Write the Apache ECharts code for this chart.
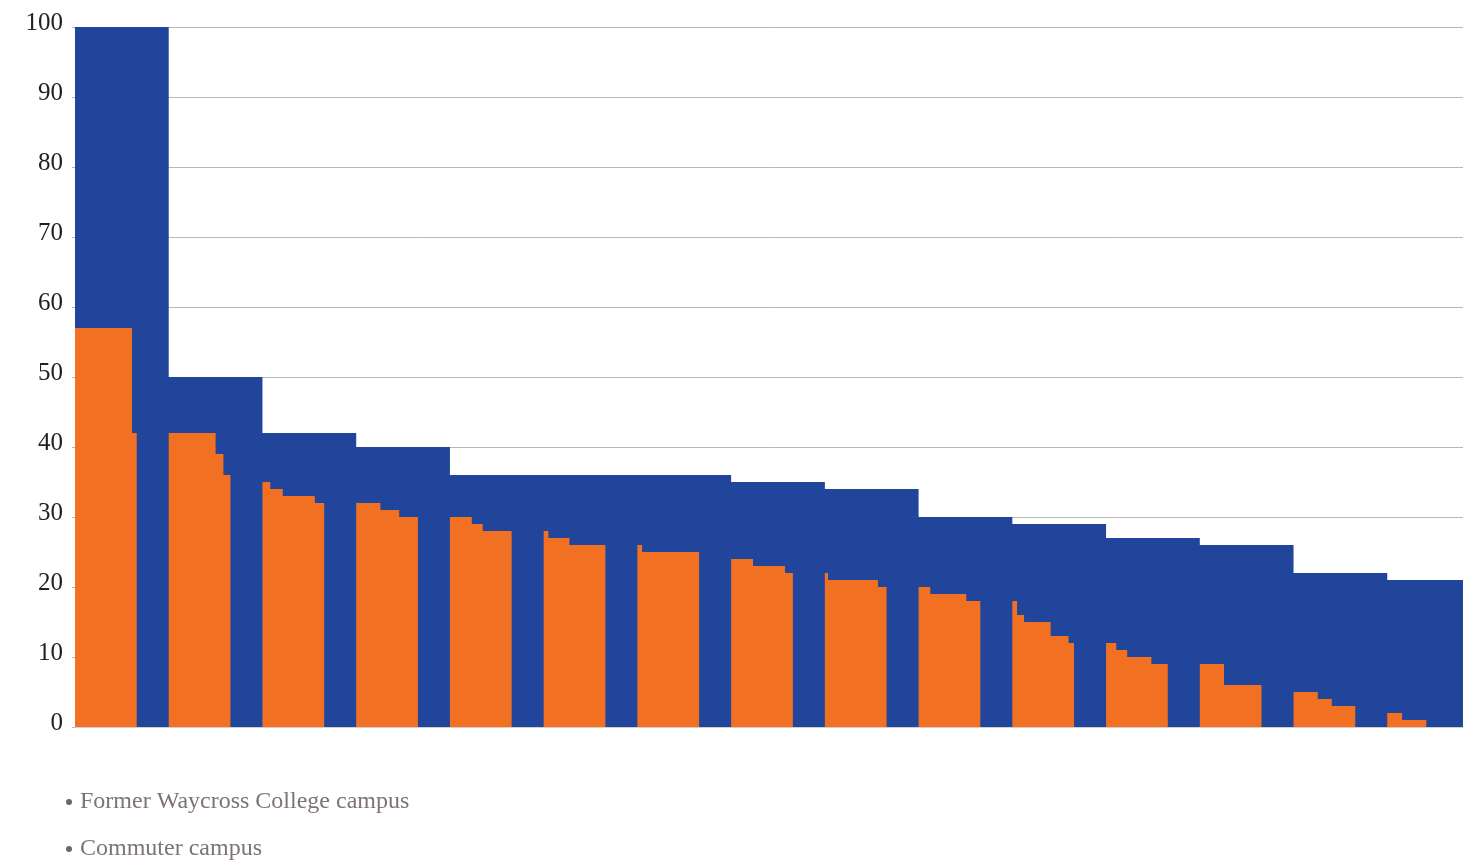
<!DOCTYPE html>
<html>
<head>
<meta charset="utf-8">
<script src="https://cdn.jsdelivr.net/npm/echarts@6/dist/echarts.min.js"></script>
<style>
  html, body { margin: 0; padding: 0; background: #ffffff; }
  #chart { width: 1463px; height: 860px; }
</style>
</head>
<body>
<div id="chart"></div>
<script>
// ---- data ----
const categories = ['1','2','3','4','5','6','7','8','9','10','11','12','13','14','15'];
const seriesNames = ['Former Waycross College campus', 'Commuter campus'];
const blueValues = [100, 50, 42, 40, 36, 36, 36, 35, 34, 30, 29, 27, 26, 22, 21];
// orange steps per group: [value, run length in 1/120 of a group]
const orangeRuns = [
  [[57, 73], [42, 6]],
  [[42, 60], [39, 10], [36, 9]],
  [[35, 10], [34, 16], [33, 41], [32, 12]],
  [[32, 31], [31, 24], [30, 24]],
  [[30, 28], [29, 14], [28, 37]],
  [[28, 6], [27, 27], [26, 46]],
  [[26, 6], [25, 73]],
  [[24, 28], [23, 41], [22, 10]],
  [[22, 4], [21, 64], [20, 11]],
  [[20, 15], [19, 46], [18, 18]],
  [[18, 6], [16, 9], [15, 34], [13, 23], [12, 7]],
  [[12, 13], [11, 14], [10, 31], [9, 21]],
  [[9, 31], [6, 48]],
  [[5, 31], [4, 18], [3, 30]],
  [[2, 19], [1, 31]]
];
const yMin = 0, yMax = 100, yStep = 10;
const runUnitsPerGroup = 120;

// blue: one full-width step per category
const bluePoints = [];
blueValues.forEach(function (v, g) { bluePoints.push([g, v]); });
bluePoints.push([blueValues.length, blueValues[blueValues.length - 1]]);

// orange: step points built from the runs
const orangePoints = [];
orangeRuns.forEach(function (runs, g) {
  let cum = 0;
  runs.forEach(function (r) {
    orangePoints.push([g + cum / runUnitsPerGroup, r[0]]);
    cum += r[1];
  });
  orangePoints.push([g + cum / runUnitsPerGroup, 0]);
});

const chart = echarts.init(document.getElementById('chart'), null, { renderer: 'canvas' });
const serif = "'Liberation Serif', 'DejaVu Serif', serif";
chart.setOption({
  animation: false,
  backgroundColor: '#ffffff',
  grid: { left: 75, top: 27, width: 1406, height: 700, containLabel: false, outerBoundsMode: 'none' },
  legend: {
    orient: 'vertical',
    left: 66,
    top: 790,
    height: 120,
    width: 600,
    padding: 0,
    icon: 'circle',
    itemWidth: 6,
    itemHeight: 6,
    itemGap: 23,
    data: seriesNames,
    itemStyle: { color: '#6f6663', borderWidth: 0 },
    textStyle: { fontFamily: serif, fontSize: 24, color: '#7d7471', lineHeight: 24, padding: [0, 0, 0, 3] },
    selectedMode: false
  },
  xAxis: [
    {
      type: 'category', data: categories, gridIndex: 0,
      boundaryGap: true,
      axisLine: { show: true, lineStyle: { color: '#d0d0d0', width: 1 } },
      axisTick: { show: false }, axisLabel: { show: false }, splitLine: { show: false }
    },
    {
      type: 'value', gridIndex: 0, min: 0, max: categories.length, show: false
    }
  ],
  yAxis: {
    type: 'value', min: yMin, max: yMax, interval: yStep,
    axisLine: { show: false },
    axisTick: { show: true, length: 3, lineStyle: { color: '#b8b8b8' } },
    axisLabel: { fontFamily: serif, fontSize: 25, color: '#231f20', margin: 12, verticalAlign: 'bottom', lineHeight: 8 },
    splitLine: { show: true, lineStyle: { color: '#b8b8b8', width: 1 } }
  },
  series: [
    {
      name: seriesNames[0], type: 'line', xAxisIndex: 1, data: bluePoints,
      step: 'end', symbol: 'none', showSymbol: false,
      lineStyle: { width: 0, opacity: 0 },
      areaStyle: { color: '#22459c', opacity: 1 },
      itemStyle: { color: '#22459c' },
      z: 2
    },
    {
      name: seriesNames[1], type: 'line', xAxisIndex: 1, data: orangePoints,
      step: 'end', symbol: 'none', showSymbol: false,
      lineStyle: { width: 0, opacity: 0 },
      areaStyle: { color: '#f27022', opacity: 1 },
      itemStyle: { color: '#f27022' },
      z: 3
    }
  ]
});
</script>
</body>
</html>
